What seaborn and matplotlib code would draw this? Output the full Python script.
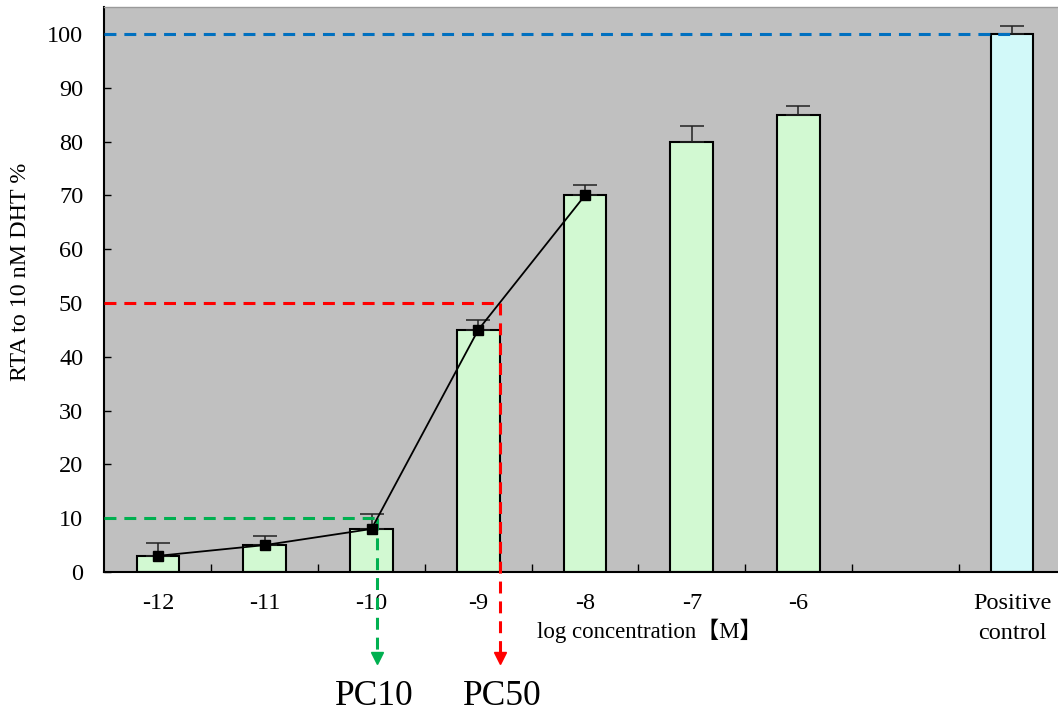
import numpy as np
import pandas as pd
import matplotlib
matplotlib.use("Agg")
import matplotlib.pyplot as plt
import seaborn as sns

# ---- data ----
categories = ["-12", "-11", "-10", "-9", "-8", "-7", "-6", "Positive\ncontrol"]
order = ["-12", "-11", "-10", "-9", "-8", "-7", "-6", " ", "Positive\ncontrol"]
values = [3, 5, 8, 45, 70, 80, 85, 100]
err_upper = [2.4, 1.7, 2.7, 1.8, 1.9, 2.9, 1.6, 1.4]
curve_categories = ["-12", "-11", "-10", "-9", "-8"]
curve_values = [3, 5, 8, 45, 70]
bar_colors = ["#CCFFCC"] * 7 + ["#CCFFFF"]
thresholds = {"PC10": (10, "#00B050"), "PC50": (50, "#FF0000")}
control_level = 100
y_ticks = list(range(0, 101, 10))

sns.set_theme(style="white")
plt.rcParams["font.family"] = ["Liberation Serif", "Noto Sans CJK JP", "DejaVu Sans"]
plt.rcParams["text.color"] = "black"
plt.rcParams["xtick.color"] = "black"
plt.rcParams["ytick.color"] = "black"
plt.rcParams["xtick.labelcolor"] = "black"
plt.rcParams["ytick.labelcolor"] = "black"

df = pd.DataFrame({"cat": categories, "val": values})
pos = {c: i for i, c in enumerate(order)}

fig = plt.figure(figsize=(10.58, 7.11), dpi=100)
ax = fig.add_axes([104 / 1058, 139 / 711, 954 / 1058, 565 / 711])
ax.set_facecolor("#C0C0C0")

sns.barplot(data=df, x="cat", y="val", order=order, hue="cat",
            palette=dict(zip(categories, bar_colors)), legend=False,
            width=0.4, edgecolor="black", linewidth=1.5, ax=ax, zorder=2)

xs = [pos[c] for c in categories]
ax.errorbar(xs, values, yerr=[np.zeros(len(values)), err_upper], fmt="none",
            ecolor="#222222", elinewidth=1.1, capsize=8.5, capthick=1.1, zorder=3)

cx = [pos[c] for c in curve_categories]
ax.plot(cx, curve_values, color="black", lw=1.3, marker="s", ms=7,
        markerfacecolor="black", zorder=6)

xl = (-0.506, 8.431)
ax.set_xlim(*xl)
ax.set_ylim(0, 105)

dash = (0, (3.9, 2.6))
# positive control level
ax.plot([xl[0], pos["Positive\ncontrol"]], [control_level, control_level],
        color="#0070C0", lw=2.2, ls=dash, zorder=5)

for name, (lvl, col) in thresholds.items():
    xp = float(np.interp(lvl, curve_values, cx))
    ax.plot([xl[0], xp], [lvl, lvl], color=col, lw=2.2, ls=dash, zorder=5)
    ax.plot([xp, xp], [lvl, -15.0], color=col, lw=2.2, ls=dash, zorder=5, clip_on=False)
    ax.plot([xp], [-16.0], marker="v", ms=8.8, color=col, mec=col, clip_on=False, zorder=5)
    lx = {"PC10": 374, "PC50": 502}[name]
    fig.text(lx / 1058, 1 - 705 / 711, name, ha="center", va="baseline", fontsize=25.5,
             color="black")

# ticks
ax.set_xticks(range(len(order)))
ax.set_xticklabels([c if c.strip() else "" for c in order], fontsize=17.5, linespacing=1.55,
                   color="black")
ax.set_xticks(np.arange(0.5, len(order) - 1, 1.0), minor=True)
ax.tick_params(axis="x", which="major", length=0, pad=15)
ax.tick_params(axis="x", which="minor", direction="in", length=6, width=1, color="black",
               bottom=True)
ax.set_yticks(y_ticks)
ax.set_yticklabels([str(t) for t in y_ticks], fontsize=17.5, color="black")
ax.tick_params(axis="y", direction="in", length=5, width=1, color="black", left=True, pad=15)

ax.set_xlabel("")
ax.set_ylabel("")
fig.text(21 / 1058, 1 - 272 / 711, "RTA to 10 nM DHT %", rotation=90, ha="center",
         va="center", fontsize=17.3, color="black")
fig.text(650 / 1058, 1 - 631 / 711, "log concentration【M】", ha="center", va="center",
         fontsize=16.5, color="black")

for s in ["left", "bottom"]:
    ax.spines[s].set_visible(True)
    ax.spines[s].set_color("black")
    ax.spines[s].set_linewidth(1.5)
ax.spines["top"].set_color("#9A9A9A")
ax.spines["top"].set_linewidth(1)
ax.spines["right"].set_visible(False)

fig.savefig("out.png", dpi=100)
